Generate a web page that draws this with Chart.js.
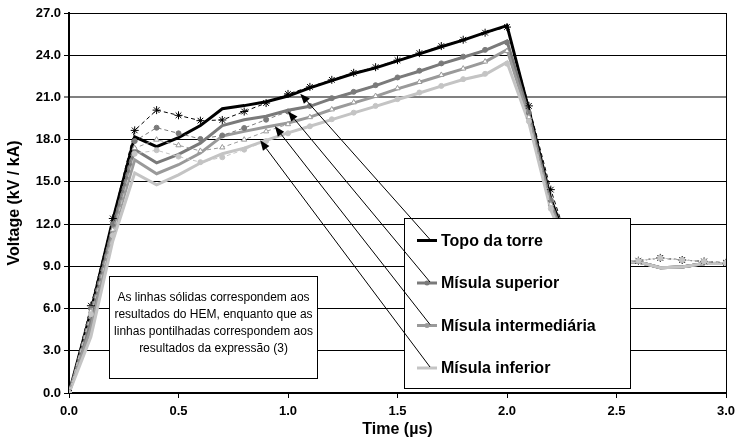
<!DOCTYPE html>
<html>
<head>
<meta charset="utf-8">
<script src="https://cdn.jsdelivr.net/npm/chart.js@4/dist/chart.umd.min.js"></script>
<style>
html,body{margin:0;padding:0;background:#fff;}
canvas{display:block;}
</style>
</head>
<body>
<canvas id="c" width="735" height="445"></canvas>
<script>
// ---- data ----
const times = [0,0.1,0.2,0.3,0.4,0.5,0.6,0.7,0.8,0.9,1.0,1.1,1.2,1.3,1.4,1.5,1.6,1.7,1.8,1.9,2.0,2.1,2.2,2.3,2.4,2.5,2.6,2.7,2.8,2.9,3.0];

// HEM results (solid lines)
const topoHEM = [0,5.8,12.3,18.2,17.5,18.15,19.0,20.2,20.42,20.7,21.1,21.68,22.2,22.7,23.1,23.6,24.1,24.6,25.07,25.6,26.1,20.1,13.8,9.6,9.3,9.3,9.3,8.9,8.95,9.2,9.2];
const supHEM  = [0,5.2,11.8,17.3,16.35,16.95,17.75,19.0,19.42,19.66,20.09,20.37,20.92,21.37,21.84,22.39,22.86,23.39,23.86,24.34,25.0,19.8,13.5,9.5,9.3,9.3,9.3,8.9,8.95,9.2,9.2];
const intHEM  = [0,4.6,11.3,16.57,15.58,16.22,17.05,18.25,18.59,18.9,19.19,19.6,20.14,20.61,21.08,21.61,22.08,22.56,23.03,23.53,24.4,19.5,13.3,9.5,9.3,9.3,9.3,8.9,8.95,9.2,9.2];
const infHEM  = [0,4.0,10.8,15.63,14.79,15.5,16.34,17.0,17.4,17.95,18.48,18.95,19.42,19.9,20.37,20.85,21.32,21.8,22.27,22.63,23.5,19.2,13.0,9.4,9.3,9.3,9.3,8.9,8.95,9.2,9.2];

// Expression (3) results (dotted lines)
const topoExp = [0,6.2,12.4,18.66,20.1,19.73,19.35,19.4,20.0,20.6,21.25,21.75,22.25,22.75,23.15,23.65,24.15,24.65,25.1,25.6,26.0,20.4,14.45,9.7,9.4,9.4,9.4,9.6,9.45,9.35,9.25];
const supExp  = [0,6.0,12.0,17.9,18.85,18.45,18.05,18.3,18.83,19.42,20.0,20.4,20.95,21.4,21.87,22.42,22.9,23.42,23.9,24.38,24.9,19.9,13.7,9.6,9.4,9.4,9.4,9.6,9.45,9.35,9.25];
const intExp  = [0,5.8,11.6,17.4,18.0,17.6,17.2,17.45,18.0,18.59,19.1,19.6,20.15,20.65,21.1,21.65,22.1,22.6,23.05,23.55,24.3,19.6,13.4,9.5,9.4,9.4,9.4,9.6,9.45,9.35,9.25];
const infExp  = [0,5.6,11.2,17.0,17.25,16.8,16.4,16.75,17.29,17.9,18.45,18.95,19.45,19.92,20.4,20.88,21.35,21.82,22.3,22.68,23.4,19.3,13.1,9.5,9.4,9.4,9.4,9.6,9.45,9.35,9.25];

const seriesNames = ['Topo da torre','Mísula superior','Mísula intermediária','Mísula inferior'];
const noteLines = ['As linhas sólidas correspondem aos','resultados do HEM, enquanto que as','linhas pontilhadas correspondem aos','resultados da expressão (3)'];
// arrow targets on the curves (time, value)
const arrowT = [1.056, 1.0, 0.94, 0.873];
const arrowV = [21.27, 20.01, 18.95, 17.95];

const xTitle = 'Time (µs)';
const yTitle = 'Voltage (kV / kA)';

// ---- styles ----
const FONT = "'Liberation Sans', Arial, sans-serif";
const colors = ['#000000','#7a7a7a','#9a9a9a','#c4c4c4'];
const pts = arr => arr.map((v,i)=>({x:times[i], y:v}));

function solid(data, i){
  return {label:seriesNames[i], data:pts(data), borderColor:colors[i], backgroundColor:colors[i],
    borderWidth:3, pointRadius:0, tension:0, order:7-i};
}
function dashed(data, i, style, fill, radius){
  return {label:seriesNames[i]+' (3)', data:pts(data), borderColor:colors[i], backgroundColor:fill,
    borderWidth:1, borderDash:[4,3], pointStyle:style, pointRadius:radius, pointBorderColor:colors[i],
    pointBackgroundColor:fill, pointBorderWidth:1, tension:0, order:3-i};
}

const overlay = {
  id:'overlay',
  afterDatasetsDraw(chart){
    const {ctx, chartArea:a, scales:{x,y}} = chart;
    ctx.save();
    // right border of plot area
    ctx.strokeStyle='#000'; ctx.lineWidth=1;
    ctx.beginPath(); ctx.moveTo(Math.round(a.right)+0.5, a.top); ctx.lineTo(Math.round(a.right)+0.5, a.bottom); ctx.stroke();

    // note box
    const nb = {l:109.5, t:276.5, r:317.5, b:378.5};
    ctx.fillStyle='#fff'; ctx.fillRect(nb.l, nb.t, nb.r-nb.l, nb.b-nb.t);
    ctx.strokeStyle='#000'; ctx.lineWidth=1; ctx.strokeRect(nb.l, nb.t, nb.r-nb.l, nb.b-nb.t);
    ctx.fillStyle='#000'; ctx.font = '12px '+FONT; ctx.textAlign='center'; ctx.textBaseline='middle';
    noteLines.forEach((s,i)=>ctx.fillText(s, (nb.l+nb.r)/2, 298 + i*17));

    // legend box
    const lb = {l:404.5, t:218.5, r:630.5, b:388.5};
    ctx.fillStyle='#fff'; ctx.fillRect(lb.l, lb.t, lb.r-lb.l, lb.b-lb.t);
    ctx.strokeStyle='#000'; ctx.lineWidth=1; ctx.strokeRect(lb.l, lb.t, lb.r-lb.l, lb.b-lb.t);
    ctx.font = 'bold 16px '+FONT; ctx.textAlign='left'; ctx.textBaseline='middle';
    const rows = [240.5, 283, 325.5, 368];
    seriesNames.forEach((s,i)=>{
      ctx.strokeStyle=colors[i]; ctx.lineWidth=3;
      ctx.beginPath(); ctx.moveTo(417, rows[i]); ctx.lineTo(437, rows[i]); ctx.stroke();
      if(i===1||i===2){ ctx.fillStyle=colors[i]; ctx.beginPath(); ctx.arc(427, rows[i], 2.5, 0, Math.PI*2); ctx.fill(); }
      ctx.fillStyle='#000'; ctx.fillText(s, 441, rows[i]+1);
    });

    // arrows
    ctx.strokeStyle='#000'; ctx.fillStyle='#000'; ctx.lineWidth=1;
    arrowT.forEach((t,i)=>{
      const hx = x.getPixelForValue(t), hy = y.getPixelForValue(arrowV[i]);
      const tx = 430, ty = rows[i]-1;
      const ang = Math.atan2(hy-ty, hx-tx);
      const L = 10, W = 4;
      const bx = hx - L*Math.cos(ang), by = hy - L*Math.sin(ang);
      ctx.beginPath(); ctx.moveTo(tx,ty); ctx.lineTo(bx,by); ctx.stroke();
      ctx.beginPath(); ctx.moveTo(hx,hy);
      ctx.lineTo(bx + W*Math.sin(ang), by - W*Math.cos(ang));
      ctx.lineTo(bx - W*Math.sin(ang), by + W*Math.cos(ang));
      ctx.closePath(); ctx.fill();
    });
    ctx.restore();
  }
};

new Chart(document.getElementById('c'), {
  type:'line',
  data:{datasets:[
    dashed(topoExp,0,'star','#000',4),
    dashed(supExp,1,'circle','#7a7a7a',2.5),
    dashed(intExp,2,'triangle','#ffffff',3),
    dashed(infExp,3,'circle','#c4c4c4',2.5),
    solid(topoHEM,0), solid(supHEM,1), solid(intHEM,2), solid(infHEM,3)
  ]},
  options:{
    responsive:false, animation:false, devicePixelRatio:1,
    layout:{padding:{top:13, right:9, left:0, bottom:0}},
    plugins:{legend:{display:false}, tooltip:{enabled:false}},
    scales:{
      x:{type:'linear', min:0, max:3,
        afterFit(s){ s.height = 52; s.paddingLeft = 0; s.paddingRight = 0; },
        ticks:{stepSize:0.5, callback:v=>Number(v).toFixed(1), color:'#000', font:{family:FONT, size:13, weight:'bold'}, padding:6, maxRotation:0, autoSkip:false},
        grid:{drawOnChartArea:false, drawTicks:true, tickLength:5, color:'#000'},
        border:{color:'#000', width:2},
        title:{display:true, text:xTitle, color:'#000', font:{family:FONT, size:16, weight:'bold'}, padding:{top:0, bottom:6}}
      },
      y:{min:0, max:27,
        afterFit(s){ s.width = 69; },
        ticks:{stepSize:3, callback:v=>Number(v).toFixed(1), color:'#000', font:{family:FONT, size:13, weight:'bold'}, padding:3},
        grid:{color:c=> (c.tick && c.tick.value===21) ? '#808080' : '#000', lineWidth:c=> (c.tick && c.tick.value===21) ? 2 : 1, tickLength:5},
        border:{color:'#000', width:2},
        title:{display:true, text:yTitle, color:'#000', font:{family:FONT, size:16, weight:'bold'}, padding:{top:5, bottom:0}}
      }
    }
  },
  plugins:[overlay]
});
</script>
</body>
</html>
